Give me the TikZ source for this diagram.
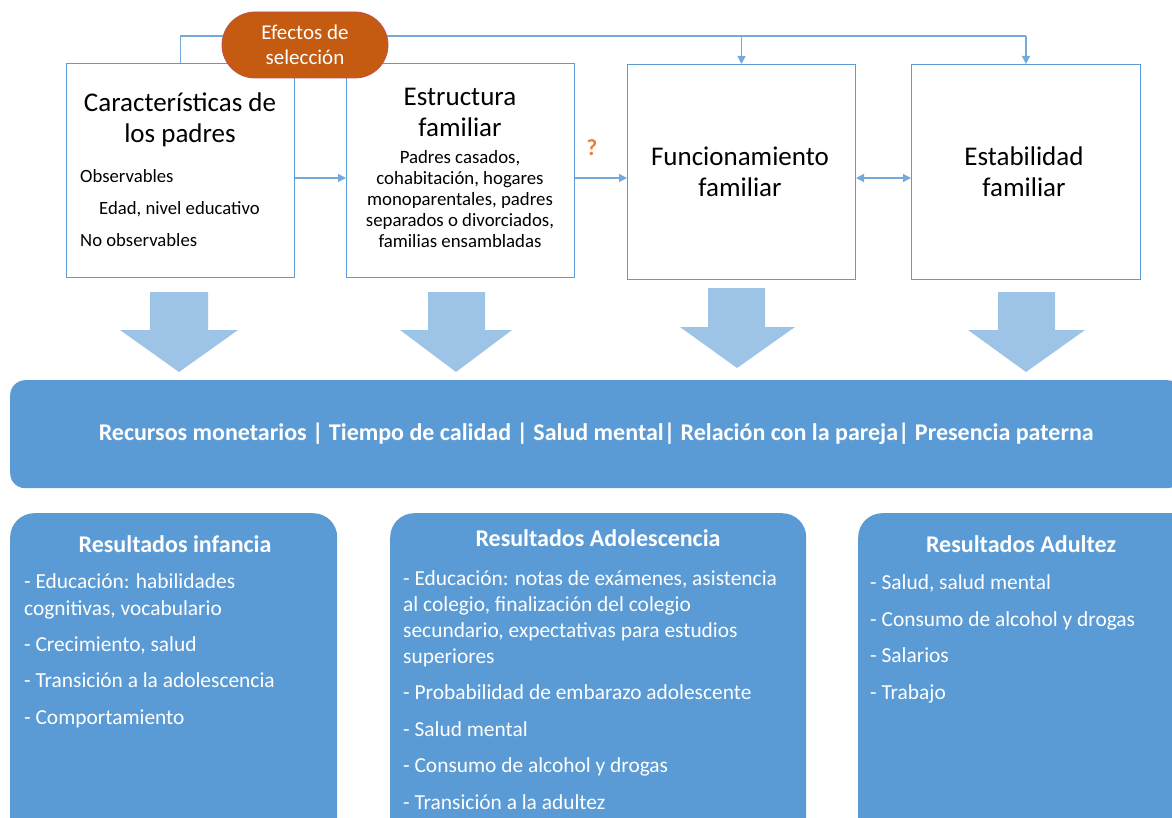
\documentclass[tikz,border=0pt]{standalone}
\usepackage{fontspec}
\setmainfont{Carlito}
\usetikzlibrary{arrows.meta,shapes.misc}
\definecolor{bord}{HTML}{5B9BD5}
\definecolor{lite}{HTML}{9DC3E6}
\definecolor{fillb}{HTML}{5B9BD5}
\definecolor{orng}{HTML}{C55A11}
\definecolor{qorng}{HTML}{ED7D31}
\definecolor{obord}{HTML}{C0504D}
\newcommand{\fsz}[2]{\fontsize{#1}{#2}\selectfont}
\begin{document}
\begin{tikzpicture}[x=1pt,y=-1pt,
  topbox/.style={draw=bord,line width=1pt,fill=white,inner sep=0pt,anchor=north west},
  lineb/.style={draw=bord!85!white,line width=1.3pt},
  conn/.style={lineb,-{Triangle[length=8pt,width=8pt]}},
  dconn/.style={lineb,{Triangle[length=8pt,width=8pt]}-{Triangle[length=8pt,width=8pt]}},
  blockarrow/.style={fill=lite,draw=none},
  resbox/.style={fill=fillb,draw=none,rounded corners=24pt,inner sep=0pt,anchor=north west},
  ttl/.style={align=center,inner sep=0pt,font=\fsz{27}{31}},
  sub/.style={align=center,inner sep=0pt,font=\fsz{18.8}{21}},
  head/.style={text=white,inner sep=0pt,font=\fsz{24}{28}\bfseries},
  items/.style={text=white,align=left,inner sep=0pt,anchor=north west}
]
\useasboundingbox (0,0) rectangle (1172,818);
\clip (0,0) rectangle (1172,818);

% top boxes
\node[topbox,minimum width=228pt,minimum height=214pt] (c1) at (66,63) {};
\node[topbox,minimum width=228pt,minimum height=214pt] (c2) at (346,63) {};
\node[topbox,minimum width=228pt,minimum height=215pt] (c3) at (627,64) {};
\node[topbox,minimum width=229pt,minimum height=215pt] (c4) at (911,64) {};

% feedback line
\coordinate (fbL) at (c1.north |- 0,36);
\coordinate (fbR) at (c4.north |- 0,36);
\draw[lineb] (c1.north) -- (fbL) -- (fbR);
\draw[conn] (c3.north |- fbL) -- (c3.north);
\draw[conn] (fbR) -- (c4.north);

% selection effects
\node[rounded rectangle,fill=orng,draw=obord,line width=0.8pt,minimum width=166pt,minimum height=66pt,
      text=white,align=center,inner sep=0pt,font=\fsz{21}{25}] (sel) at (305,45) {Efectos de\\selección};

% horizontal arrows
\draw[conn] (c1.east |- 0,178) -- (c2.west |- 0,178);
\draw[conn] (c2.east |- 0,178) -- (c3.west |- 0,178);
\draw[dconn] (c3.east |- 0,178) -- (c4.west |- 0,178);
\node[text=qorng,inner sep=0pt,font=\fsz{23}{24}\bfseries] (q) at (592,148) {?};

% texts in top boxes
\node[ttl] (t1) at (180,119.5) {Características de\\los padres};
\node[align=left,inner sep=0pt,anchor=west,font=\fsz{18.7}{32}] (t1s) at (80,208.5)
  {Observables\\\hspace*{19pt}Edad, nivel educativo\\No observables};
\node[ttl] (t2) at (460,112.5) {Estructura\\familiar};
\node[sub] (t2s) at (460,199) {Padres casados,\\cohabitación, hogares\\monoparentales, padres\\separados o divorciados,\\familias ensambladas};
\node[ttl] (t3) at (740,171.5) {Funcionamiento\\familiar};
\node[ttl] (t4) at (1024,171.5) {Estabilidad\\familiar};

% block arrows
\fill[blockarrow] (150,292) -- (208,292) -- (208,330) -- (238,330) -- (179,372) -- (120,330) -- (150,330) -- cycle;
\fill[blockarrow] (428,292) -- (485,292) -- (485,330) -- (512,330) -- (456,372) -- (400,330) -- (428,330) -- cycle;
\fill[blockarrow] (708,288) -- (765,288) -- (765,327) -- (795,327) -- (737,368) -- (680,327) -- (708,327) -- cycle;
\fill[blockarrow] (998,292) -- (1055,292) -- (1055,330) -- (1085,330) -- (1026,372) -- (968,330) -- (998,330) -- cycle;

% mechanisms bar
\node[fill=fillb,draw=none,rounded corners=15pt,anchor=north west,minimum width=1172pt,minimum height=108pt,
      inner sep=0pt,text=white,font=\fsz{24}{28}\bfseries] (bar) at (10,380)
  {Recursos monetarios | Tiempo de calidad | Salud mental| Relación con la pareja| Presencia paterna};

% result boxes
\node[resbox,minimum width=327pt,minimum height=340pt] (r1) at (10,513) {};
\node[resbox,minimum width=416pt,minimum height=340pt] (r2) at (390,513) {};
\node[resbox,minimum width=340pt,minimum height=340pt] (r3) at (858,513) {};

\node[head] (h1) at (175,544) {Resultados infancia};
\node[head] (h2) at (598,538) {Resultados Adolescencia};
\node[head] (h3) at (1021,544) {Resultados Adultez};

\node[items,font=\fsz{21.4}{27}] (i1) at (24,573)
  {- Educación: habilidades\\cognitivas, vocabulario\\[9pt]- Crecimiento, salud\\[9.5pt]- Transición a la adolescencia\\[9.5pt]- Comportamiento};
\node[items,font=\fsz{21.4}{26}] (i2) at (403,570.5)
  {- Educación: notas de exámenes, asistencia\\al colegio, finalización del colegio\\secundario, expectativas para estudios\\superiores\\[10pt]- Probabilidad de embarazo adolescente\\[10.5pt]- Salud mental\\[10.5pt]- Consumo de alcohol y drogas\\[10.5pt]- Transición a la adultez};
\node[items,font=\fsz{21.4}{36.5}] (i3) at (870,574.5)
  {- Salud, salud mental\\- Consumo de alcohol y drogas\\- Salarios\\- Trabajo};
\end{tikzpicture}
\end{document}
